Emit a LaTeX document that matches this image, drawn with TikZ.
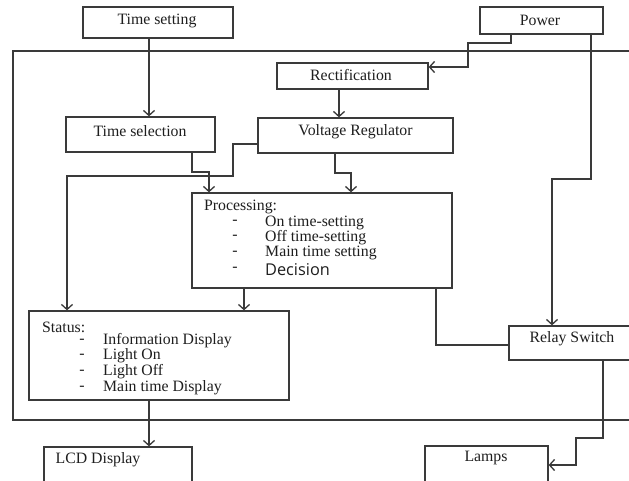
\documentclass[tikz,border=0pt]{standalone}
\usepackage{fontspec}
\setmainfont{Liberation Serif}
\newfontfamily\decfont{Open Sans}
\usetikzlibrary{arrows.meta}
\definecolor{ln}{HTML}{3A3A3A}
\definecolor{tx}{HTML}{1E1E1E}
\begin{document}
\begin{tikzpicture}[x=1pt,y=-1pt,
  box/.style={draw=ln,line width=1.3pt,rectangle,inner sep=0pt,text=tx,font=\fontsize{15.8}{15.8}\selectfont},
  lbl/.style={inner sep=0pt,text=tx,font=\fontsize{15.8}{15.8}\selectfont},
  dsh/.style={inner sep=0pt,text=tx,font=\fontsize{15.8}{15.8}\selectfont,text height=2pt,text depth=0pt},
  wire/.style={draw=ln,line width=1.3pt},
  arr/.style={wire,-{Straight Barb[length=5pt,width=11pt,line width=1.3pt]}}]
\useasboundingbox (0,0) rectangle (629,481);
\clip (0,0) rectangle (629,481);
\fill[white] (0,0) rectangle (629,481);
% outer frame
\draw[wire] (13,51) rectangle (660,420);
% boxes
\node[box,minimum width=150,minimum height=31] (ts) at (158,22.5) {};
\node[lbl] (tst) at (157,21) {Time setting};
\node[box,minimum width=123,minimum height=27] (pw) at (541.5,20.5) {};
\node[lbl] (pwt) at (540,20) {Power};
\node[box,minimum width=151,minimum height=26] (rect) at (352.5,76) {};
\node[lbl] (rectt) at (351,75) {Rectification};
\node[box,minimum width=195,minimum height=35] (vr) at (355.5,135.5) {};
\node[lbl] (vrt) at (355.5,132) {Voltage Regulator};
\node[box,minimum width=149,minimum height=35] (tsel) at (140.5,134.5) {};
\node[lbl] (tselt) at (140,131) {Time selection};
\node[box,minimum width=260,minimum height=95] (proc) at (322,240.5) {};
\node[lbl,anchor=west] (p0) at (204,207) {Processing:};
\node[dsh] (pd1) at (235,224) {-};
\node[dsh] (pd2) at (235,239) {-};
\node[dsh] (pd3) at (235,254) {-};
\node[dsh] (pd4) at (235,270) {-};
\node[lbl,anchor=west] (p1) at (265,223) {On time-setting};
\node[lbl,anchor=west] (p2) at (265,238) {Off time-setting};
\node[lbl,anchor=west] (p3) at (265,253) {Main time setting};
\node[lbl,anchor=west,font=\decfont\fontsize{16.3}{16.3}\selectfont] (p4) at (265,270) {Decision};
\node[box,minimum width=260,minimum height=89] (st) at (159,355.5) {};
\node[lbl,anchor=west] (s0) at (42,327) {Status:};
\node[dsh] (sd1) at (82,342) {-};
\node[dsh] (sd2) at (82,357) {-};
\node[dsh] (sd3) at (82,373) {-};
\node[dsh] (sd4) at (82,389) {-};
\node[lbl,anchor=west] (s1) at (103,341) {Information Display};
\node[lbl,anchor=west] (s2) at (103,356) {Light On};
\node[lbl,anchor=west] (s3) at (103,372) {Light Off};
\node[lbl,anchor=west] (s4) at (103,388) {Main time Display};
\node[box,minimum width=131,minimum height=34] (rl) at (574.5,343) {};
\node[lbl] (rlt) at (572,339) {Relay Switch};
\node[box,minimum width=148,minimum height=60] (lcd) at (118,477) {};
\node[lbl] (lcdt) at (98,460) {LCD Display};
\node[box,minimum width=123,minimum height=60] (lp) at (486.5,476) {};
\node[lbl] (lpt) at (486,458) {Lamps};
% coordinates
\coordinate (x149) at (149,0);
\coordinate (x339) at (339,0);
\coordinate (x244) at (244,0);
\coordinate (a1) at (511,43); \coordinate (a2) at (468,43); \coordinate (a3) at (468,67);
\coordinate (b1) at (192,172); \coordinate (b2) at (209,172);
\coordinate (c0) at (258,144); \coordinate (c1) at (233,144); \coordinate (c2) at (233,176); \coordinate (c3) at (67,176);
\coordinate (d1) at (335,173); \coordinate (d2) at (351,173);
\coordinate (e1) at (436,345);
\coordinate (f1) at (591,179); \coordinate (f2) at (552,179);
\coordinate (g0) at (603,0); \coordinate (g1) at (603,438); \coordinate (g2) at (576,438); \coordinate (g3) at (576,465);
% connectors
\draw[arr] (ts.south -| x149) -- (tsel.north -| x149);
\draw[arr] (pw.south -| a1) -- (a1) -- (a2) -- (a3) -- (rect.east |- a3);
\draw[arr] (rect.south -| x339) -- (vr.north -| x339);
\draw[arr] (tsel.south -| b1) -- (b1) -- (b2) -- (proc.north -| b2);
\draw[arr] (vr.west |- c0) -- (c1) -- (c2) -- (c3) -- (st.north -| c3);
\draw[arr] (vr.south -| d1) -- (d1) -- (d2) -- (proc.north -| d2);
\draw[arr] (proc.south -| x244) -- (st.north -| x244);
\draw[arr] (st.south -| x149) -- (lcd.north -| x149);
\draw[wire] (proc.south -| e1) -- (e1) -- (rl.west |- e1);
\draw[arr] (pw.south -| f1) -- (f1) -- (f2) -- (rl.north -| f2);
\draw[arr] (rl.south -| g0) -- (g1) -- (g2) -- (g3) -- (lp.east |- g3);
\end{tikzpicture}
\end{document}
